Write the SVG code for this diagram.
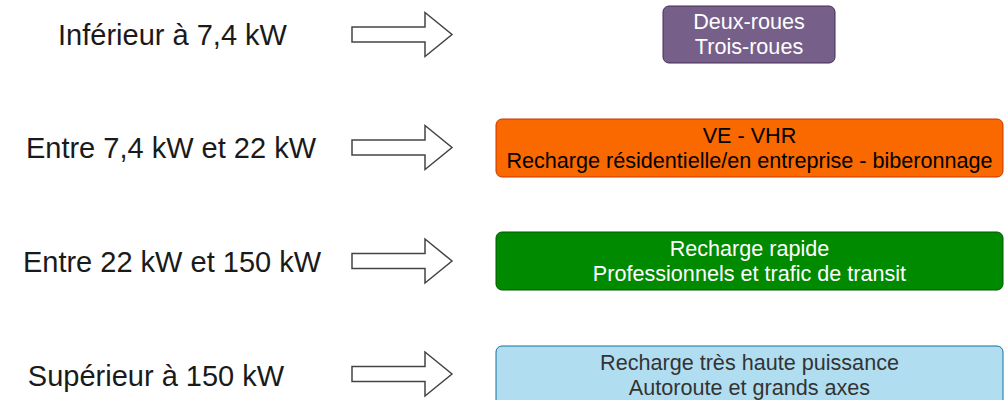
<svg xmlns="http://www.w3.org/2000/svg" width="1008" height="400" viewBox="0 0 1008 400">
<style>
  .lbl{font-family:"Liberation Sans",Arial,sans-serif;font-size:29px;fill:#1a1a1a;text-anchor:middle}
  .bt{font-family:"Liberation Sans",Arial,sans-serif;font-size:21.6px;text-anchor:middle}
  .arrow{fill:#ffffff;stroke:#444444;stroke-width:1.5;stroke-linejoin:miter}
</style>
<defs>
  <path id="arr" d="M352,-7.5 H425 V-22 L452,0 L425,22 V7.5 H352 Z"/>
</defs>
<rect width="1008" height="400" fill="#ffffff"/>
<g id="label1"><text class="lbl" x="172.5" y="45">Inférieur à 7,4 kW</text></g>
<g id="label2"><text class="lbl" x="171" y="158">Entre 7,4 kW et 22 kW</text></g>
<g id="label3"><text class="lbl" x="172" y="272">Entre 22 kW et 150 kW</text></g>
<g id="label4"><text class="lbl" x="156" y="386">Supérieur à 150 kW</text></g>
<g id="connectors">
  <use href="#arr" class="arrow" transform="translate(0,34.5)"/>
  <use href="#arr" class="arrow" transform="translate(0,147.5)"/>
  <use href="#arr" class="arrow" transform="translate(0,261)"/>
  <use href="#arr" class="arrow" transform="translate(0,374)"/>
</g>
<g id="box1">
  <rect x="663" y="6" width="172" height="57" rx="6" fill="#76608a" stroke="#432d57" stroke-width="1"/>
  <text class="bt" x="749" y="29" fill="#ffffff">Deux-roues</text>
  <text class="bt" x="749" y="54" fill="#ffffff">Trois-roues</text>
</g>
<g id="box2">
  <rect x="496" y="119" width="507" height="58" rx="6" fill="#fa6800" stroke="#c73500" stroke-width="1"/>
  <text class="bt" x="749.5" y="143" fill="#000000">VE - VHR</text>
  <text class="bt" x="749.5" y="168" fill="#000000">Recharge résidentielle/en entreprise - biberonnage</text>
</g>
<g id="box3">
  <rect x="496" y="232" width="507" height="58" rx="6" fill="#008a00" stroke="#005700" stroke-width="1"/>
  <text class="bt" x="749.5" y="256" fill="#ffffff">Recharge rapide</text>
  <text class="bt" x="749.5" y="281" fill="#ffffff">Professionnels et trafic de transit</text>
</g>
<g id="box4">
  <rect x="496" y="346" width="507" height="60" rx="6" fill="#b1ddf0" stroke="#10739e" stroke-width="1"/>
  <text class="bt" x="749.5" y="370" fill="#333333">Recharge très haute puissance</text>
  <text class="bt" x="749.5" y="395" fill="#333333">Autoroute et grands axes</text>
</g>
</svg>
